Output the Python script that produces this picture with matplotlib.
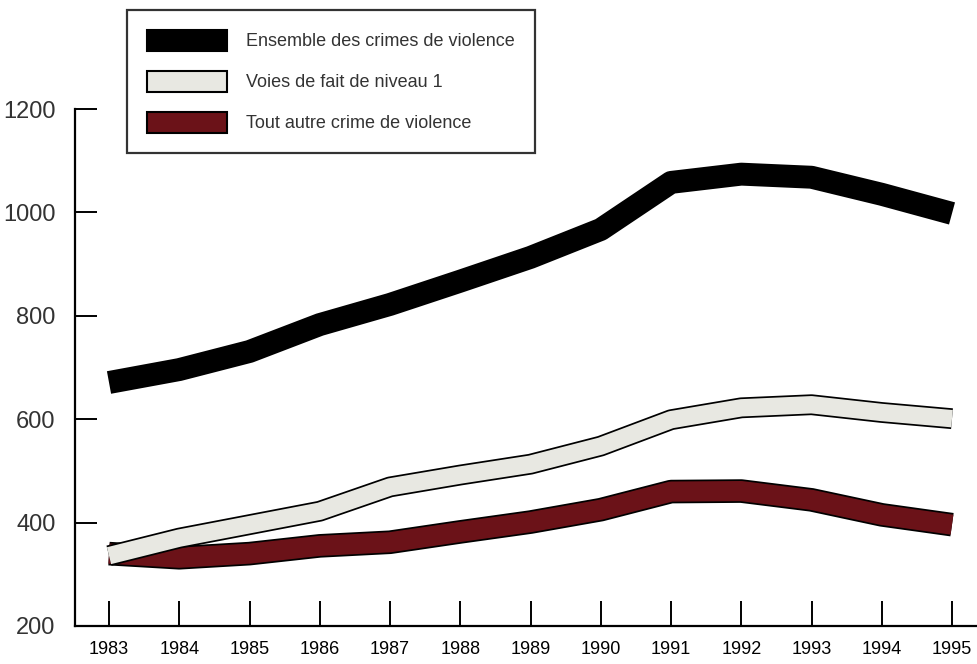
import matplotlib
matplotlib.use("Agg")
import matplotlib.pyplot as plt
import matplotlib.patheffects as pe
from matplotlib.patches import Patch

plt.rcParams.update({
    "font.family": ["Liberation Sans", "DejaVu Sans"],
})

# --- Data ---
years = [1983, 1984, 1985, 1986, 1987, 1988, 1989, 1990, 1991, 1992, 1993, 1994, 1995]
total_violent = [671, 696, 731, 783, 822, 867, 913, 967, 1058, 1074, 1068, 1035, 998]
assault_level1 = [336, 370, 396, 422, 469, 492, 513, 548, 599, 622, 628, 613, 601]
other_violent = [340, 332, 340, 355, 362, 382, 401, 425, 460, 461, 444, 415, 396]

labels = ["Ensemble des crimes de violence",
          "Voies de fait de niveau 1",
          "Tout autre crime de violence"]

BLACK = "#000000"
GRAY = "#E8E8E2"
RED = "#6B1218"

fig = plt.figure(figsize=(9.78, 6.64), dpi=100)
ax = fig.add_axes([75 / 978, 1 - 626 / 664, 1 - 75 / 978, (626 - 109) / 664])

# red first, gray drawn over it where they cross
ax.plot(years, other_violent, color=RED, lw=14.5, solid_capstyle="butt",
        solid_joinstyle="round",
        path_effects=[pe.Stroke(linewidth=17, foreground="black"), pe.Normal()])
ax.plot(years, assault_level1, color=GRAY, lw=12.5, solid_capstyle="butt",
        solid_joinstyle="round",
        path_effects=[pe.Stroke(linewidth=15, foreground="black"), pe.Normal()])
ax.plot(years, total_violent, color=BLACK, lw=16.5, solid_capstyle="butt",
        solid_joinstyle="round")

ax.set_xlim(1982.516, 1995.37)
ax.set_ylim(200, 1200)
ax.set_xticks(years)
ax.set_yticks([200, 400, 600, 800, 1000, 1200])

for s in ["top", "right"]:
    ax.spines[s].set_visible(False)
for s in ["left", "bottom"]:
    ax.spines[s].set_linewidth(1.6)
ax.spines["left"].set_bounds(200, 1200)

ax.tick_params(axis="x", direction="in", length=18, width=1.4, pad=11,
               labelsize=13, labelcolor="black")
ax.tick_params(axis="y", direction="in", length=16, width=1.4, pad=14,
               labelsize=17, labelcolor="#333333")

handles = [
    Patch(facecolor=BLACK, edgecolor="black", linewidth=1.5),
    Patch(facecolor=GRAY, edgecolor="black", linewidth=1.5),
    Patch(facecolor=RED, edgecolor="black", linewidth=1.5),
]
leg = fig.legend(handles, labels, loc="upper left",
                 bbox_to_anchor=(127 / 978, 1 - 10 / 664),
                 bbox_transform=fig.transFigure,
                 fontsize=13, fancybox=False, frameon=True,
                 handlelength=4.45, handleheight=1.4, labelspacing=1.12,
                 handletextpad=1.05, borderpad=1.1, borderaxespad=0)
leg.get_frame().set_edgecolor("black")
leg.get_frame().set_linewidth(1.6)
for t in leg.get_texts():
    t.set_color("#333333")

fig.savefig("out.png", dpi=100)
